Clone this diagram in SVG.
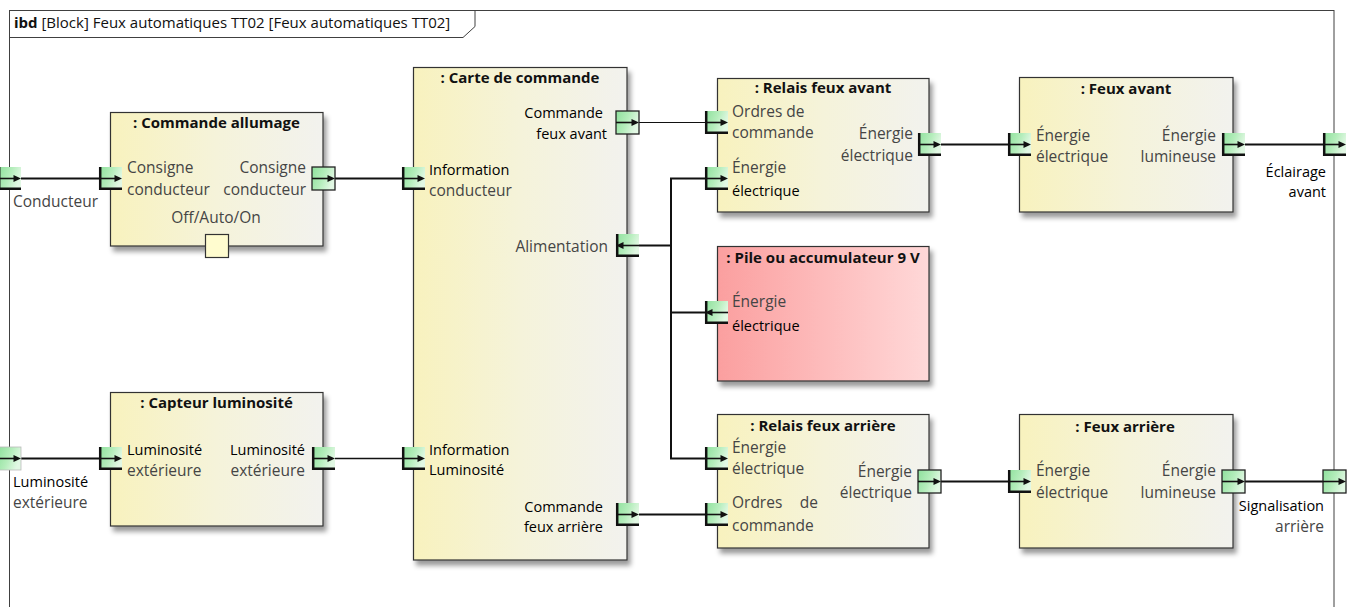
<svg xmlns="http://www.w3.org/2000/svg" xmlns:xlink="http://www.w3.org/1999/xlink" width="1352" height="607" viewBox="0 0 1352 607">
<style>
text { font-family: "Open Sans", "Noto Sans", "DejaVu Sans", sans-serif; }
.hd { font-size: 15px; fill: #111; }
.ti { font-size: 15px; font-weight: bold; fill: #111; text-anchor: middle; }
.g { font-size: 15.5px; fill: #454545; }
.k { font-size: 14.5px; fill: #000; }
.e { text-anchor: end; }
.m { text-anchor: middle; }
.blk { fill: url(#gBlk); stroke: #333; stroke-width: 1.2; filter: url(#sh); }
.pile { fill: url(#gPile); stroke: #333; stroke-width: 1.2; filter: url(#sh); }
.cn { fill: none; stroke: #111; stroke-width: 2; }
.thin { stroke-width: 1.2; }
.mid { stroke-width: 1.6; }
</style>
<defs>
  <linearGradient id="gBlk" x1="0" y1="0" x2="1" y2="0">
    <stop offset="0" stop-color="#F8F2BE"/>
    <stop offset="0.5" stop-color="#F5F3DA"/>
    <stop offset="1" stop-color="#F2F2EE"/>
  </linearGradient>
  <linearGradient id="gPile" x1="0" y1="0" x2="1" y2="0">
    <stop offset="0" stop-color="#FB9F9F"/>
    <stop offset="1" stop-color="#FFD8D8"/>
  </linearGradient>
  <linearGradient id="gPort" x1="0" y1="0" x2="1" y2="0.4">
    <stop offset="0" stop-color="#8EE09C"/>
    <stop offset="0.55" stop-color="#B4EDBB"/>
    <stop offset="1" stop-color="#E2F8E4"/>
  </linearGradient>
  <filter id="sh" x="-10%" y="-10%" width="130%" height="130%">
    <feDropShadow dx="3" dy="5" stdDeviation="2.5" flood-color="#000" flood-opacity="0.4"/>
  </filter>
  <g id="pF">
    <rect x="0" y="0" width="23" height="23" fill="url(#gPort)" stroke="#222" stroke-width="1.3"/>
    <path d="M0 11.5 H17" stroke="#111" stroke-width="1.6"/>
    <polygon points="23,11.5 15.5,8 15.5,15" fill="#111"/>
  </g>
  <g id="pL">
    <rect x="0" y="0" width="23" height="23" fill="url(#gPort)"/>
    <path d="M1.2 0 V21.8 H23" fill="none" stroke="#111" stroke-width="2.5"/>
    <path d="M0 11.5 H17" stroke="#111" stroke-width="1.6"/>
    <polygon points="23,11.5 15.5,8 15.5,15" fill="#111"/>
  </g>
  <g id="pLl">
    <rect x="0" y="0" width="23" height="23" fill="url(#gPort)"/>
    <path d="M1.2 0 V21.8 H23" fill="none" stroke="#111" stroke-width="2.5"/>
    <path d="M6 11.5 H23" stroke="#111" stroke-width="1.6"/>
    <polygon points="0,11.5 7.5,8 7.5,15" fill="#111"/>
  </g>
  <g id="pN">
    <rect x="0" y="0" width="23" height="23" fill="url(#gPort)" stroke="#bbb" stroke-width="0.8"/>
    <path d="M0 11.5 H17" stroke="#111" stroke-width="1.6"/>
    <polygon points="23,11.5 15.5,8 15.5,15" fill="#111"/>
  </g>
</defs>

<g id="frame">
  <rect x="9.5" y="10.5" width="1324.5" height="620" fill="#fff" stroke="#404040" stroke-width="1"/>
  <path d="M9.5 37.5 H463 L475 26.5 V10.5" fill="none" stroke="#404040" stroke-width="1"/>
  <text class="hd" x="14" y="28"><tspan font-weight="bold">ibd</tspan> [Block] Feux automatiques TT02 [Feux automatiques TT02]</text>
</g>

<g id="connectors">
  <path class="cn" d="M21 178.5 H99"/>
  <path class="cn" d="M335 178.5 H402"/>
  <path class="cn thin" d="M639 122.5 H705"/>
  <path class="cn" d="M705 178.5 H671 V458.5 H705 M639 245.5 H671 M671 312.5 H705"/>
  <path class="cn" d="M639 514.5 H705"/>
  <path class="cn" d="M941 144.5 H1008"/>
  <path class="cn" d="M1245 144.5 H1323"/>
  <path class="cn" d="M941 481.5 H1008"/>
  <path class="cn" d="M1245 481.5 H1323"/>
  <path class="cn" d="M21 458.5 H99"/>
  <path class="cn mid" d="M335 458.5 H402"/>
</g>

<g id="frame-ports">
  <use xlink:href="#pL" x="-2" y="167"/>
  <text class="g" x="13" y="207">Conducteur</text>
  <use xlink:href="#pN" x="-2" y="447"/>
  <text class="k" x="13" y="487">Luminosité</text>
  <text class="g" x="13" y="508">extérieure</text>
  <use xlink:href="#pL" x="1323" y="133"/>
  <text class="k e" x="1326" y="177">Éclairage</text>
  <text class="k e" x="1326" y="197">avant</text>
  <use xlink:href="#pF" x="1323" y="470"/>
  <text class="k e" x="1324" y="511">Signalisation</text>
  <text class="g e" x="1324" y="532">arrière</text>
</g>

<g id="commande-allumage">
  <rect class="blk" x="110.5" y="112.5" width="212.5" height="133.5"/>
  <text class="ti" x="216.5" y="128">: Commande allumage</text>
  <text class="g" x="127" y="173">Consigne</text>
  <text class="g" x="127" y="195">conducteur</text>
  <text class="g e" x="306" y="173">Consigne</text>
  <text class="g e" x="306" y="195">conducteur</text>
  <text class="g m" x="216" y="223">Off/Auto/On</text>
  <rect x="205.5" y="234.5" width="23" height="23" fill="#FFFCCF" stroke="#333" stroke-width="1.2"/>
  <use xlink:href="#pL" x="99" y="167"/>
  <use xlink:href="#pF" x="312" y="167"/>
</g>

<g id="capteur-luminosite">
  <rect class="blk" x="110.5" y="392.5" width="212.5" height="133.5"/>
  <text class="ti" x="216.5" y="408">: Capteur luminosité</text>
  <text class="k" x="127" y="455">Luminosité</text>
  <text class="g" x="127" y="476">extérieure</text>
  <text class="k e" x="305" y="455">Luminosité</text>
  <text class="g e" x="305" y="476">extérieure</text>
  <use xlink:href="#pL" x="99" y="447"/>
  <use xlink:href="#pL" x="312" y="447"/>
</g>

<g id="carte-de-commande">
  <rect class="blk" x="413.5" y="67.5" width="213.5" height="492.5"/>
  <text class="ti" x="520" y="83">: Carte de commande</text>
  <text class="k e" x="603" y="118">Commande</text>
  <text class="k e" x="607" y="139">feux avant</text>
  <text class="k" x="429" y="175">Information</text>
  <text class="g" x="429" y="196">conducteur</text>
  <text class="g e" x="608" y="252">Alimentation</text>
  <text class="k" x="429" y="455">Information</text>
  <text class="k" x="429" y="475">Luminosité</text>
  <text class="k e" x="603" y="512">Commande</text>
  <text class="k e" x="603" y="532">feux arrière</text>
  <use xlink:href="#pF" x="616" y="111"/>
  <use xlink:href="#pL" x="402" y="167"/>
  <use xlink:href="#pLl" x="616" y="234"/>
  <use xlink:href="#pL" x="402" y="447"/>
  <use xlink:href="#pL" x="616" y="503"/>
</g>

<g id="relais-feux-avant">
  <rect class="blk" x="717.5" y="78.5" width="211.5" height="133.5"/>
  <text class="ti" x="823" y="93">: Relais feux avant</text>
  <text class="g" x="732" y="117">Ordres de</text>
  <text class="g" x="732" y="138">commande</text>
  <text class="g" x="732" y="173">Énergie</text>
  <text class="k" x="732" y="196">électrique</text>
  <text class="g e" x="913" y="139">Énergie</text>
  <text class="g e" x="913" y="161">électrique</text>
  <use xlink:href="#pL" x="705" y="111"/>
  <use xlink:href="#pL" x="705" y="167"/>
  <use xlink:href="#pL" x="918" y="133"/>
</g>

<g id="pile">
  <rect class="pile" x="717.5" y="246.5" width="211.5" height="134.5"/>
  <text class="ti" x="823" y="263">: Pile ou accumulateur 9 V</text>
  <text class="g" x="732" y="307">Énergie</text>
  <text class="k" x="732" y="331">électrique</text>
  <use xlink:href="#pLl" x="705" y="301"/>
</g>

<g id="relais-feux-arriere">
  <rect class="blk" x="717.5" y="414.5" width="211.5" height="133.5"/>
  <text class="ti" x="823" y="431">: Relais feux arrière</text>
  <text class="g" x="732" y="453">Énergie</text>
  <text class="g" x="732" y="474">électrique</text>
  <text class="g" x="732" y="508">Ordres</text>
  <text class="g e" x="818" y="508">de</text>
  <text class="g" x="732" y="531">commande</text>
  <text class="g e" x="912" y="477">Énergie</text>
  <text class="g e" x="912" y="498">électrique</text>
  <use xlink:href="#pL" x="705" y="447"/>
  <use xlink:href="#pL" x="705" y="503"/>
  <use xlink:href="#pF" x="918" y="470"/>
</g>

<g id="feux-avant">
  <rect class="blk" x="1019.5" y="77.5" width="213.5" height="134.5"/>
  <text class="ti" x="1126" y="94">: Feux avant</text>
  <text class="g" x="1036" y="141">Énergie</text>
  <text class="g" x="1036" y="162">électrique</text>
  <text class="g e" x="1216" y="141">Énergie</text>
  <text class="g e" x="1216" y="162">lumineuse</text>
  <use xlink:href="#pL" x="1008" y="133"/>
  <use xlink:href="#pL" x="1222" y="133"/>
</g>

<g id="feux-arriere">
  <rect class="blk" x="1019.5" y="414.5" width="213.5" height="133.5"/>
  <text class="ti" x="1125" y="432">: Feux arrière</text>
  <text class="g" x="1036" y="476">Énergie</text>
  <text class="g" x="1036" y="498">électrique</text>
  <text class="g e" x="1216" y="476">Énergie</text>
  <text class="g e" x="1216" y="498">lumineuse</text>
  <use xlink:href="#pL" x="1008" y="470"/>
  <use xlink:href="#pF" x="1222" y="470"/>
</g>
</svg>
